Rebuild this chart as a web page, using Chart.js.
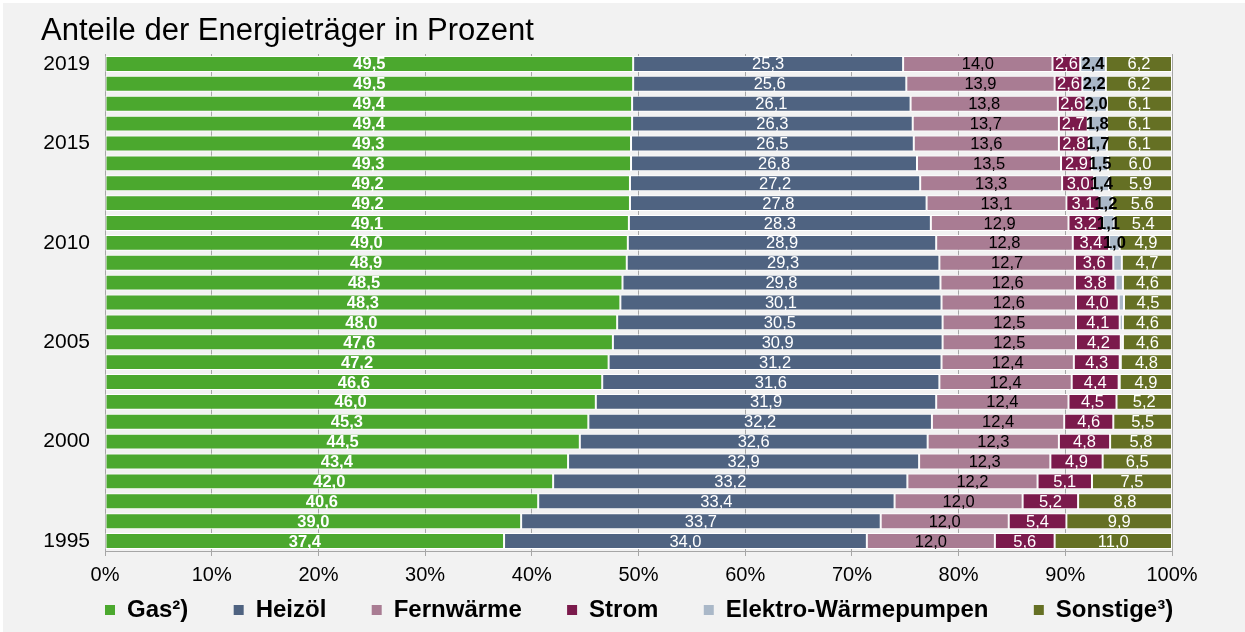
<!DOCTYPE html>
<html>
<head>
<meta charset="utf-8">
<script src="https://cdn.jsdelivr.net/npm/chart.js@4.4.1/dist/chart.umd.min.js"></script>
<style>
html,body{margin:0;padding:0;background:#f2f2f2;overflow:hidden}
canvas{display:block}
</style>
</head>
<body>
<canvas id="c" width="1245" height="632"></canvas>
<script>
// ---- data (1995 .. 2019) ----
const years = ['1995','1996','1997','1998','1999','2000','2001','2002','2003','2004','2005','2006','2007','2008','2009','2010','2011','2012','2013','2014','2015','2016','2017','2018','2019'];
const shownYears = ['1995','2000','2005','2010','2015','2019'];
const seriesNames = ['Gas²)','Heizöl','Fernwärme','Strom','Elektro-Wärmepumpen','Sonstige³)'];
const gas = [37.4,39.0,40.6,42.0,43.4,44.5,45.3,46.0,46.6,47.2,47.6,48.0,48.3,48.5,48.9,49.0,49.1,49.2,49.2,49.3,49.3,49.4,49.4,49.5,49.5];
const heizoel = [34.0,33.7,33.4,33.2,32.9,32.6,32.2,31.9,31.6,31.2,30.9,30.5,30.1,29.8,29.3,28.9,28.3,27.8,27.2,26.8,26.5,26.3,26.1,25.6,25.3];
const fernwaerme = [12.0,12.0,12.0,12.2,12.3,12.3,12.4,12.4,12.4,12.4,12.5,12.5,12.6,12.6,12.7,12.8,12.9,13.1,13.3,13.5,13.6,13.7,13.8,13.9,14.0];
const strom = [5.6,5.4,5.2,5.1,4.9,4.8,4.6,4.5,4.4,4.3,4.2,4.1,4.0,3.8,3.6,3.4,3.2,3.1,3.0,2.9,2.8,2.7,2.6,2.6,2.6];
const waermepumpen = [0,0,0,0,0,0,0,0,0.1,0.1,0.2,0.3,0.5,0.7,0.8,1.0,1.1,1.2,1.4,1.5,1.7,1.8,2.0,2.2,2.4];
const sonstige = [11.0,9.9,8.8,7.5,6.5,5.8,5.5,5.2,4.9,4.8,4.6,4.6,4.5,4.6,4.7,4.9,5.4,5.6,5.9,6.0,6.1,6.1,6.1,6.2,6.2];
const xTicks = [0,10,20,30,40,50,60,70,80,90,100];

// ---- styles ----
const FONT = "'Liberation Sans', Arial, Helvetica, sans-serif";
const colors = ['#4ba82e','#4f6381','#a97c93','#7b1a4c','#aab8c8','#657024'];
const labelColors = ['#ffffff','#ffffff','#000000','#ffffff','#000000','#ffffff'];
const labelWeights = ['bold','normal','normal','normal','bold','normal'];
const labelMins = [0,0,0,0,1,0];
const values = [gas, heizoel, fernwaerme, strom, waermepumpen, sonstige];

const datasets = values.map((d,i)=>({
  label: seriesNames[i],
  data: d,
  backgroundColor: colors[i],
  borderColor: '#ffffff',
  borderWidth: 1,
  borderSkipped: false,
  categoryPercentage: 1.0,
  barPercentage: 0.8,
  labelColor: labelColors[i],
  labelWeight: labelWeights[i],
  labelMin: labelMins[i]
}));

const bgPlugin = {
  id: 'bg',
  beforeDraw(chart){
    const c = chart.ctx;
    c.save();
    c.fillStyle = '#ffffff';
    c.fillRect(0,0,chart.width,chart.height);
    c.fillStyle = '#f2f2f2';
    c.fillRect(3,3,chart.width-3,chart.height-3);
    c.restore();
  }
};

const valueLabels = {
  id: 'valueLabels',
  afterDatasetsDraw(chart){
    const c = chart.ctx;
    c.save();
    c.textAlign = 'center';
    c.textBaseline = 'middle';
    chart.data.datasets.forEach((ds,i)=>{
      const meta = chart.getDatasetMeta(i);
      c.fillStyle = ds.labelColor;
      c.font = ds.labelWeight + ' 16.5px ' + FONT;
      meta.data.forEach((bar,j)=>{
        const v = ds.data[j];
        if (!(v > 0) || v < ds.labelMin) return;
        const p = bar.getProps(['x','base','y'], true);
        c.fillText(v.toFixed(1).replace('.', ','), (p.x + p.base)/2, p.y + 1);
      });
    });
    c.restore();
  }
};

const legendShift = {
  id: 'legendShift',
  afterLayout(chart){
    const lg = chart.legend;
    if (!lg || !lg.lineWidths) return;
    const pad = lg.options.labels.padding;
    const start = (lg.left + pad + lg.right - lg.lineWidths[0]) / 2;
    const d = chart.chartArea.left - start;
    lg.left += d;
    lg.right += d;
  }
};

new Chart(document.getElementById('c'), {
  type: 'bar',
  data: { labels: years, datasets: datasets },
  options: {
    indexAxis: 'y',
    responsive: false,
    animation: false,
    devicePixelRatio: 1,
    layout: { padding: { left: 41, right: 73, top: 0, bottom: 0 } },
    scales: {
      x: {
        stacked: true,
        min: 0, max: 100,
        afterBuildTicks(s){ s.ticks = xTicks.map(v=>({value:v})); },
        ticks: {
          callback: v => v + '%',
          color: '#000000',
          font: { size: 20, family: FONT },
          padding: 7,
          maxRotation: 0,
          autoSkip: false
        },
        grid: { color: '#a6a6a6', lineWidth: 1, tickLength: 5, drawTicks: true },
        border: { display: true, color: '#a6a6a6', width: 1 },
        afterFit(s){ s.height = 35; }
      },
      y: {
        stacked: true,
        reverse: true,
        ticks: {
          autoSkip: false,
          padding: 15,
          color: '#000000',
          font: { size: 21, family: FONT },
          callback(v){ const l = this.getLabelForValue(v); return shownYears.includes(l) ? l : ''; }
        },
        grid: { display: false, drawTicks: false },
        border: { display: true, color: '#a6a6a6', width: 1 },
        afterFit(s){ s.width = 64; }
      }
    },
    plugins: {
      title: {
        display: true,
        text: 'Anteile der Energieträger in Prozent',
        align: 'start',
        color: '#000000',
        font: { size: 31, weight: 'normal', family: FONT, lineHeight: 1.2 },
        padding: { top: 12.4, bottom: 4.4 }
      },
      legend: {
        position: 'bottom',
        labels: {
          boxWidth: 10,
          boxHeight: 10,
          padding: 12,
          color: '#000000',
          font: { size: 24, weight: 'bold', family: FONT },
          generateLabels(chart){
            const items = Chart.defaults.plugins.legend.labels.generateLabels(chart);
            return items.map((it,i)=>Object.assign({}, it, {
              text: i < items.length - 1 ? it.text + '     ' : it.text,
              lineWidth: 0,
              strokeStyle: 'rgba(0,0,0,0)'
            }));
          }
        }
      },
      tooltip: { enabled: false }
    }
  },
  plugins: [bgPlugin, valueLabels, legendShift]
});
</script>
</body>
</html>
